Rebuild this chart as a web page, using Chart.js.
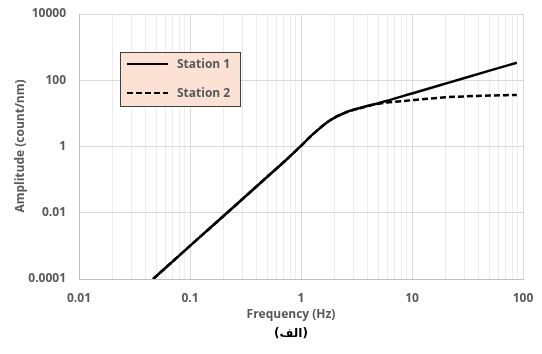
<!DOCTYPE html>
<html>
<head>
<meta charset="utf-8">
<script src="https://cdn.jsdelivr.net/npm/chart.js@4.4.1/dist/chart.umd.min.js"></script>
<style>
  html, body { margin: 0; padding: 0; background: #fff; }
  #wrap { position: relative; width: 542px; height: 354px; }
</style>
</head>
<body>
<div id="wrap"><canvas id="chart" width="542" height="354"></canvas></div>
<script>
// values
const seriesNames = ['Station 1', 'Station 2'];
const freqs = [0.0465, 0.1, 0.25, 0.5, 0.75, 1.0, 1.29, 1.83, 2.58, 3.65, 5.15, 10, 20, 50, 88];
const station1 = [0.0001, 0.001, 0.0155, 0.124, 0.42, 1.05, 2.4, 6.2, 11, 15.5, 21, 40, 79, 195, 338];
const station2 = [0.0001, 0.001, 0.0155, 0.124, 0.42, 1.05, 2.4, 6.2, 10.9, 15.2, 19.8, 25, 30.5, 34.5, 36];
const xMajor = [0.01, 0.1, 1, 10, 100];
const yTicks = [0.0001, 0.01, 1, 100, 10000];
const xTitle = 'Frequency (Hz)';
const yTitle = 'Amplitude (count/nm)';
const caption = '(الف)';

const textGray = '#595959';
const font = 'bold 12px "Open Sans", sans-serif';

// all the 1..9 marks of each decade for the x grid
const xTicks = [];
for (let d = 0; d < xMajor.length - 1; d++) {
    for (let m = 1; m < 10; m++) {
        xTicks.push(+(xMajor[d] * m).toPrecision(3));
    }
}
xTicks.push(xMajor[xMajor.length - 1]);

function isMajor(v) {
    return xMajor.some(m => Math.abs(m - v) / m < 1e-6);
}

// legend box and the extra texts, drawn on the canvas
const extras = {
    id: 'extras',
    afterDraw(chart) {
        const ctx = chart.ctx;
        ctx.save();
        // legend
        ctx.fillStyle = '#fbe2d5';
        ctx.fillRect(120.5, 52.5, 120, 54);
        ctx.strokeStyle = '#404040';
        ctx.lineWidth = 1;
        ctx.strokeRect(120.5, 52.5, 120, 54);
        chart.data.datasets.forEach((ds, i) => {
            const y = 64 + i * 29;
            ctx.strokeStyle = '#000';
            ctx.lineWidth = 2;
            ctx.setLineDash(ds.borderDash || []);
            ctx.beginPath();
            ctx.moveTo(127, y);
            ctx.lineTo(168, y);
            ctx.stroke();
            ctx.setLineDash([]);
            ctx.fillStyle = textGray;
            ctx.font = font;
            ctx.textAlign = 'left';
            ctx.textBaseline = 'middle';
            ctx.fillText(ds.label, 177, y + 1);
        });
        // axis titles
        ctx.fillStyle = textGray;
        ctx.font = font;
        ctx.textAlign = 'center';
        ctx.textBaseline = 'middle';
        ctx.fillText(xTitle, 291, 315);
        ctx.save();
        ctx.translate(21, 146);
        ctx.rotate(-Math.PI / 2);
        ctx.fillText(yTitle, 0, 0);
        ctx.restore();
        ctx.fillStyle = '#000';
        ctx.font = 'bold 12px "DejaVu Sans", sans-serif';
        ctx.fillText(caption, 291, 334);
        ctx.restore();
    }
};

const toPoints = vals => freqs.map((f, i) => ({ x: f, y: vals[i] }));

new Chart(document.getElementById('chart'), {
    type: 'line',
    data: {
        datasets: [{
            label: seriesNames[0],
            data: toPoints(station1),
            borderColor: '#000',
            borderWidth: 2.5,
            pointRadius: 0,
            cubicInterpolationMode: 'monotone',
            fill: false
        }, {
            label: seriesNames[1],
            data: toPoints(station2),
            borderColor: '#000',
            borderWidth: 2.5,
            borderDash: [6, 3],
            pointRadius: 0,
            cubicInterpolationMode: 'monotone',
            fill: false
        }]
    },
    options: {
        responsive: false,
        animation: false,
        layout: { padding: { left: 0, right: 19, top: 14, bottom: 0 } },
        plugins: {
            legend: { display: false },
            tooltip: { enabled: false }
        },
        scales: {
            x: {
                type: 'logarithmic',
                min: 0.01,
                max: 100,
                afterBuildTicks: scale => { scale.ticks = xTicks.map(v => ({ value: v })); },
                afterFit: scale => {
                    scale.height = 75;
                    scale.paddingLeft = 0;
                    scale.paddingRight = 0;
                },
                ticks: {
                    autoSkip: false,
                    maxRotation: 0,
                    padding: 12,
                    color: textGray,
                    font: { family: '"Open Sans", sans-serif', size: 12, weight: 'bold' },
                    callback: v => isMajor(v) ? String(v) : ''
                },
                grid: {
                    drawTicks: false,
                    color: c => isMajor(c.tick.value) ? '#d9d9d9' : '#ececec',
                    lineWidth: 1
                },
                border: { color: '#bfbfbf', width: 1 }
            },
            y: {
                type: 'logarithmic',
                min: 0.0001,
                max: 10000,
                afterBuildTicks: scale => { scale.ticks = yTicks.map(v => ({ value: v })); },
                afterFit: scale => {
                    scale.width = 79;
                    scale.paddingTop = 0;
                    scale.paddingBottom = 0;
                },
                ticks: {
                    padding: 13,
                    color: textGray,
                    font: { family: '"Open Sans", sans-serif', size: 12, weight: 'bold' },
                    callback: v => String(v)
                },
                grid: { drawTicks: false, color: '#d9d9d9', lineWidth: 1 },
                border: { color: '#bfbfbf', width: 1 }
            }
        }
    },
    plugins: [extras]
});
</script>
</body>
</html>
